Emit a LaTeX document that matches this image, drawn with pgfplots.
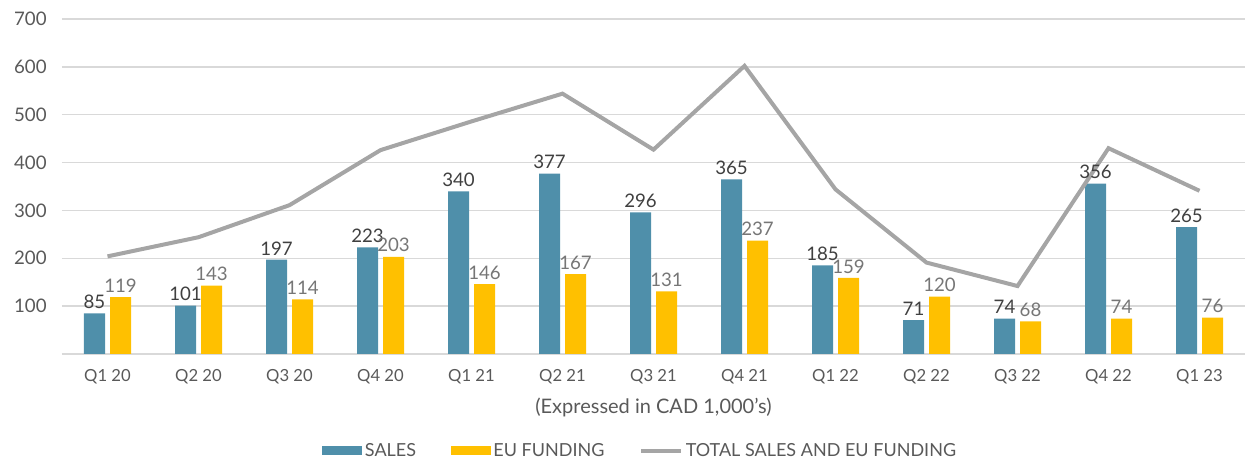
\documentclass[border=0pt]{standalone}
\usepackage{pgfplots}
\pgfplotsset{compat=1.18}
\usepackage{fontspec}
\setmainfont{Lato}
\definecolor{salesc}{HTML}{4F8FAA}
\definecolor{fundc}{HTML}{FFC000}
\definecolor{totc}{HTML}{A5A5A5}
\definecolor{gridc}{HTML}{D9D9D9}
\definecolor{txtc}{HTML}{595959}
\definecolor{darkt}{HTML}{404040}
\definecolor{lightt}{HTML}{767676}
\begin{document}
\begin{tikzpicture}
\begin{axis}[
  scale only axis, width=887.25pt, height=251.25pt,
  xmin=-0.5, xmax=12.5, ymin=0, ymax=700,
  clip=false,
  ybar=3.75pt, bar width=15.75pt,
  axis x line*=bottom, axis y line*=left,
  x axis line style={draw=gridc, line width=1pt},
  y axis line style={draw=none},
  ymajorgrids, grid style={draw=gridc, line width=1pt},
  ytick={100,200,...,700},
  xtick={0,...,12},
  xticklabels={Q1 20,Q2 20,Q3 20,Q4 20,Q1 21,Q2 21,Q3 21,Q4 21,Q1 22,Q2 22,Q3 22,Q4 22,Q1 23},
  major tick length=0pt,
  ticklabel style={text=txtc},
  /pgf/number format/assume math mode=true,
  yticklabel style={xshift=-8pt, font=\fontsize{14}{16}\selectfont},
  xticklabel style={yshift=-8pt, font=\fontsize{12.5}{14}\selectfont},
  xlabel={(Expressed in CAD 1,000's)},
  xlabel style={at={(axis description cs:0.5,-0.161)}, anchor=center, font=\fontsize{15}{17}\selectfont, text=txtc},
  legend columns=3,
  legend style={at={(0.489,-0.289)}, anchor=center, draw=none, fill=none,
    font=\fontsize{13.5}{15}\selectfont, text=txtc, inner sep=0pt,
    /tikz/every even column/.append style={column sep=24pt},
    /tikz/every odd column/.append style={column sep=0pt}},
  nodes near coords,
  every node near coord/.append style={anchor=south, font=\fontsize{14}{16}\selectfont, yshift=0pt},
]
\coordinate (sw) at (rel axis cs:0,0);
\coordinate (ne) at (rel axis cs:1,1);
\addplot[fill=salesc, draw=none, every node near coord/.append style={text=darkt},
  legend image code/.code={\fill[salesc] (0pt,-3.5pt) rectangle (30pt,3.5pt);}]
  coordinates {(0,85) (1,101) (2,197) (3,223) (4,340) (5,377) (6,296) (7,365) (8,185) (9,71) (10,74) (11,356) (12,265)};
\addplot[fill=fundc, draw=none, every node near coord/.append style={text=lightt},
  legend image code/.code={\fill[fundc] (0pt,-3.5pt) rectangle (30pt,3.5pt);}]
  coordinates {(0,119) (1,143) (2,114) (3,203) (4,146) (5,167) (6,131) (7,237) (8,159) (9,120) (10,68) (11,74) (12,76)};
\addplot[sharp plot, draw=totc, line width=3pt, mark=none, nodes near coords={}, 
  legend image code/.code={\draw[totc, line width=3pt] (0pt,0pt) -- (30pt,0pt);}]
  coordinates {(0,204) (1,244) (2,311) (3,426) (4,486) (5,544) (6,427) (7,602) (8,344) (9,191) (10,142) (11,430) (12,341)};
\legend{SALES, EU FUNDING, TOTAL SALES AND EU FUNDING}
\end{axis}
\pgfresetboundingbox
\path ([shift={(-46.5pt,-81pt)}]sw) rectangle ([shift={(3pt,14.25pt)}]ne);
\end{tikzpicture}
\end{document}
